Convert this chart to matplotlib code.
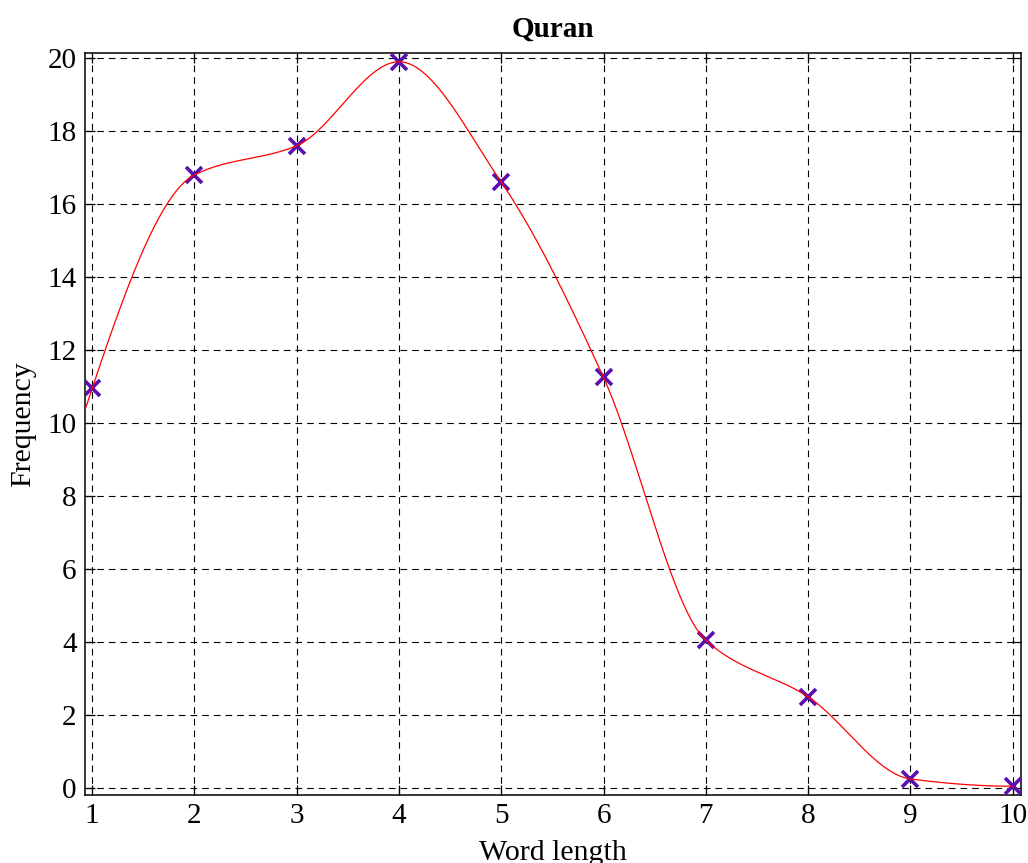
import numpy as np
import matplotlib
matplotlib.use('Agg')
import matplotlib.pyplot as plt

# word length distribution
word_length = [1, 2, 3, 4, 5, 6, 7, 8, 9, 10]
frequency = [10.95, 16.8, 17.6, 19.9, 16.6, 11.25, 4.05, 2.5, 0.25, 0.05]


def pchip(x, y, xx):
    # shape-preserving piecewise cubic Hermite interpolation (Fritsch-Carlson)
    x = np.asarray(x, float)
    y = np.asarray(y, float)
    n = len(x)
    h = np.diff(x)
    delta = np.diff(y) / h
    d = np.zeros(n)
    for k in range(1, n - 1):
        if delta[k - 1] * delta[k] > 0:
            w1 = 2 * h[k] + h[k - 1]
            w2 = h[k] + 2 * h[k - 1]
            d[k] = (w1 + w2) / (w1 / delta[k - 1] + w2 / delta[k])

    def end_slope(h0, h1, d0, d1):
        s = ((2 * h0 + h1) * d0 - h0 * d1) / (h0 + h1)
        if np.sign(s) != np.sign(d0):
            s = 0.0
        elif np.sign(d0) != np.sign(d1) and abs(s) > abs(3 * d0):
            s = 3 * d0
        return s

    d[0] = end_slope(h[0], h[1], delta[0], delta[1])
    d[-1] = end_slope(h[-1], h[-2], delta[-1], delta[-2])

    idx = np.clip(np.searchsorted(x, xx) - 1, 0, n - 2)
    hi = h[idx]
    t = (xx - x[idx]) / hi
    h00 = 2 * t ** 3 - 3 * t ** 2 + 1
    h10 = t ** 3 - 2 * t ** 2 + t
    h01 = -2 * t ** 3 + 3 * t ** 2
    h11 = t ** 3 - t ** 2
    return h00 * y[idx] + h10 * hi * d[idx] + h01 * y[idx + 1] + h11 * hi * d[idx + 1]


plt.rcParams['font.family'] = ['Liberation Serif', 'DejaVu Serif']

fig = plt.figure(figsize=(10.28, 8.63), dpi=100)
ax = fig.add_axes([0.0827, 0.0788, 0.9103, 0.8598])

xx = np.linspace(0.93, 10, 600)
yy = pchip(word_length, frequency, xx)

ax.plot(word_length, frequency, 'x', color='#5a10b0', markersize=11, markeredgewidth=2.6, zorder=3)
ax.plot(xx, yy, '-', color='#ff0000', linewidth=0.9, zorder=4)

ax.set_xlim(0.93, 10.08)
ax.set_ylim(-0.19, 20.14)
ax.set_xticks(word_length)
ax.set_yticks(np.arange(0, 21, 2))

ax.grid(True, color='black', linestyle=(0, (6, 4.5)), linewidth=0.8)
ax.set_axisbelow(True)
ax.tick_params(direction='in', length=7, width=0.9, top=True, right=True,
               labelsize=21, pad=6)
for sp in ax.spines.values():
    sp.set_linewidth(1.1)

ax.set_title('Quran', fontsize=21, fontweight='bold', pad=12)
ax.set_xlabel('Word length', fontsize=21.5, labelpad=8)
ax.set_ylabel('Frequency', fontsize=21.5, labelpad=8)

fig.savefig('out.png', dpi=100)
